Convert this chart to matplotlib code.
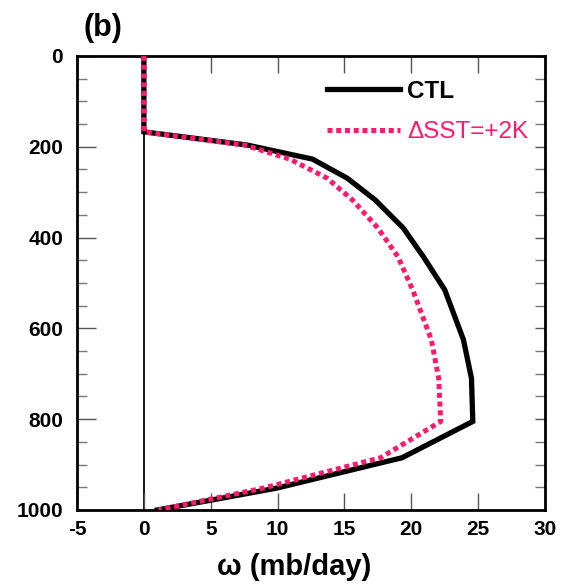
import numpy as np
import matplotlib.pyplot as plt
from matplotlib.ticker import MultipleLocator

plt.rcParams['font.family'] = ['Liberation Sans', 'DejaVu Sans']
plt.rcParams['axes.unicode_minus'] = False

# pressure levels (mb) and vertical velocity profiles (mb/day)
pres = [0, 167, 196, 227, 269, 317, 379, 442, 515, 625, 710, 805, 885, 952, 1000]
omega_ctl = [0, 0, 7.7, 12.6, 15.2, 17.3, 19.4, 20.9, 22.5, 23.9, 24.5, 24.6, 19.3, 9.9, 1.0]
omega_warm = [0, 0, 7.5, 10.9, 13.7, 15.6, 17.5, 19.0, 20.1, 21.5, 22.05, 22.2, 17.7, 8.9, 1.1]

pink = '#ff1a6e'

fig = plt.figure(figsize=(5.61, 5.87), dpi=100)
ax = fig.add_axes([0.1373, 0.1312, 0.8342, 0.7734])

ax.axvline(0, color='black', lw=1.3, zorder=1)
ax.plot(omega_ctl, pres, color='black', lw=3.8, solid_joinstyle='miter',
        label='CTL', zorder=2)
ax.plot(omega_warm, pres, color=pink, lw=3.6, linestyle=(0, (1.0, 0.75)),
        dash_capstyle='butt', label='\u0394SST=+2K', zorder=3)

ax.set_xlim(-5, 30)
ax.set_ylim(1000, 0)
ax.xaxis.set_major_locator(MultipleLocator(5))
ax.yaxis.set_major_locator(MultipleLocator(200))
ax.yaxis.set_minor_locator(MultipleLocator(50))

for sp in ax.spines.values():
    sp.set_linewidth(2.0)

ax.tick_params(axis='x', which='major', direction='in', length=12, width=1,
               color='#555555', top=True, pad=7)
ax.tick_params(axis='y', which='major', direction='in', length=14, width=1,
               color='#555555', right=True, pad=10)
ax.tick_params(axis='y', which='minor', direction='in', length=7, width=1,
               color='#777777', right=True)
for t in ax.yaxis.get_major_ticks():
    t.tick2line.set_markersize(7)

for lab in ax.get_xticklabels() + ax.get_yticklabels():
    lab.set_fontsize(15)
    lab.set_fontweight('bold')

ax.set_xlabel('\u03c9 (mb/day)', fontsize=21, fontweight='bold')
ax.xaxis.set_label_coords(0.464, -0.095)
ax.text(-4.48, -28, '(b)', fontsize=22, fontweight='bold', ha='left', va='bottom')

leg = ax.legend(loc='upper left', bbox_to_anchor=(0.508, 0.974), frameon=False,
                fontsize=17.5, handlelength=3.0, handletextpad=0.3,
                labelspacing=0.75, borderpad=0)
texts = leg.get_texts()
texts[0].set_fontweight('bold')
texts[1].set_color(pink)

fig.savefig('out.png', dpi=100)
